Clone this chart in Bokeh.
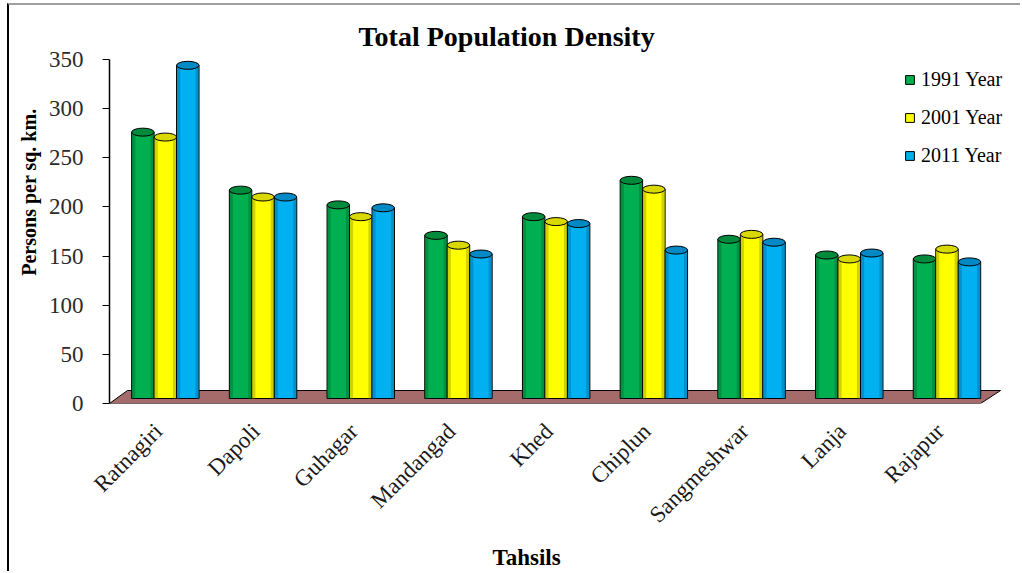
import numpy as np
from math import pi
from bokeh.plotting import figure
from bokeh.models import Range1d, FixedTicker, Legend, LegendItem, Title
from bokeh.embed import file_html
from bokeh.resources import INLINE

# ---- data ----
tahsils = ["Ratnagiri", "Dapoli", "Guhagar", "Mandangad", "Khed",
           "Chiplun", "Sangmeshwar", "Lanja", "Rajapur"]
y1991 = [271, 212, 197, 166, 185, 222, 162, 146, 142]
y2001 = [266, 205, 185, 156, 180, 213, 167, 142, 152]
y2011 = [339, 205, 194, 147, 178, 151, 159, 148, 139]
series_names = ["1991 Year", "2001 Year", "2011 Year"]
y_ticks = [0, 50, 100, 150, 200, 250, 300, 350]

# ---- styling ----
SERIF = "Liberation Serif"
colors = ["#00b050", "#ffff00", "#00b0f0"]
top_colors = ["#008a3c", "#d9d900", "#0089c4"]
edge_colors = ["#006b2e", "#9a9a00", "#006d9c"]

W, H = 1013, 568
ML, MR, MT, MB = 98, 2, 54, 170
frame_w = W - ML - MR
frame_h = H - MT - MB

ppx = 97.92                      # pixels per category step
x0 = -0.5
x1 = x0 + frame_w / ppx
floor_end = 8.62
y0, y1 = 0, 350
ppy = frame_h / (y1 - y0)

p = figure(width=W, height=H, output_backend="svg", toolbar_location=None,
           x_range=Range1d(x0, x1), y_range=Range1d(y0, y1),
           min_border_left=ML, min_border_right=MR,
           min_border_top=MT, min_border_bottom=MB)
p.styles = {"border-left": "2px solid #000000", "border-top": "2px solid #a0a0a0",
            "margin-left": "7px", "margin-top": "3px"}

# depth-shifted ranges for the bars (3-D look)
dx_px, dy_px = 7, 5
p.extra_x_ranges = {"bx": Range1d(x0 - dx_px / ppx, x1 - dx_px / ppx)}
p.extra_y_ranges = {"by": Range1d(y0 - dy_px / ppy, y1 - dy_px / ppy)}

p.grid.visible = False
p.outline_line_color = None
p.background_fill_color = "white"

# floor
fdx, fdy = 18 / ppx, 13 / ppy
floor_x = [x0, floor_end - fdx - 2 / ppx, floor_end, x0 + fdx]
floor_y = [0, 0, fdy, fdy]
p.patch(floor_x, floor_y, fill_color="#a56a6a", line_color="black", line_width=1)

# bars
idx = np.arange(len(tahsils))
w = 0.23
offsets = [-w, 0, w]
renderers = []
for vals, c, tc, ec, off in zip([y1991, y2001, y2011], colors, top_colors, edge_colors, offsets):
    xs = idx + off
    r = p.vbar(x=xs, top=vals, bottom=0, width=w, fill_color=c, line_color="black",
               line_width=1, x_range_name="bx", y_range_name="by")
    renderers.append(r)
    p.vbar(x=xs - w / 2 + w * 0.09, top=vals, bottom=0, width=w * 0.14,
           fill_color=ec, fill_alpha=0.45, line_color=None,
           x_range_name="bx", y_range_name="by")
    p.vbar(x=xs + w / 2 - w * 0.09, top=vals, bottom=0, width=w * 0.14,
           fill_color=ec, fill_alpha=0.45, line_color=None,
           x_range_name="bx", y_range_name="by")
    p.ellipse(x=xs, y=vals, width=w, height=8, height_units="screen",
              fill_color=tc, line_color="black", line_width=1,
              x_range_name="bx", y_range_name="by")

# axes
p.yaxis.ticker = FixedTicker(ticks=y_ticks)
p.yaxis.axis_line_color = "black"
p.yaxis.axis_line_width = 1.5
p.yaxis.major_tick_line_color = "black"
p.yaxis.major_tick_out = 7
p.yaxis.major_tick_in = 0
p.yaxis.minor_tick_line_color = None
p.yaxis.major_label_text_font = SERIF
p.yaxis.major_label_text_font_size = "23px"
p.yaxis.major_label_text_color = "#2b2b2b"
p.yaxis.major_label_standoff = 19

p.xaxis.ticker = FixedTicker(ticks=list(range(len(tahsils))))
p.xaxis.major_label_overrides = {i: t for i, t in enumerate(tahsils)}
p.xaxis.major_label_orientation = pi / 4
p.xaxis.axis_line_color = None
p.xaxis.major_tick_line_color = None
p.xaxis.minor_tick_line_color = None
p.xaxis.major_label_text_font = SERIF
p.xaxis.major_label_text_font_size = "23px"
p.xaxis.major_label_text_color = "#1a1a1a"
p.xaxis.major_label_standoff = 18

# title
p.title.text = "Total Population Density"
p.title.text_font = SERIF
p.title.text_font_size = "28px"
p.title.text_font_style = "bold"
p.title.align = "left"
p.title.offset = 249
p.title.standoff = 16
p.title.text_color = "black"

# axis titles
p.add_layout(Title(text="Persons per sq. km.", align="right", offset=49, standoff=12,
                   text_font=SERIF, text_font_size="20px", text_font_style="bold",
                   text_color="black"), "left")
p.add_layout(Title(text="Tahsils", align="left", offset=383, standoff=6,
                   text_font=SERIF, text_font_size="23px", text_font_style="bold",
                   text_color="black"), "below")

# legend
legend = Legend(items=[LegendItem(label=n, renderers=[r]) for n, r in zip(series_names, renderers)],
                location=(795, 236), orientation="vertical",
                glyph_width=11, glyph_height=11, label_standoff=6,
                spacing=15, padding=0, margin=0,
                border_line_color=None, background_fill_alpha=0,
                label_text_font=SERIF, label_text_font_size="20px",
                label_text_color="black")
p.add_layout(legend)

open("out.html", "w").write(file_html(p, INLINE))
